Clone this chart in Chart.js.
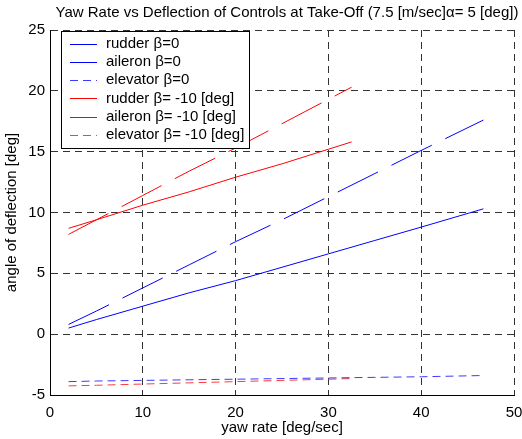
<!DOCTYPE html>
<html>
<head>
<meta charset="utf-8">
<script src="https://cdn.jsdelivr.net/npm/chart.js@4/dist/chart.umd.min.js"></script>
<style>
    html, body { margin: 0; padding: 0; background: #fff; }
    #wrap { width: 522px; height: 439px; }
</style>
</head>
<body>
<div id="wrap"><canvas id="chart" width="522" height="439"></canvas></div>
<script>
// --- Data --------------------------------------------------------------

const xBeta0 = [2, 5, 10, 15, 20, 25, 30, 35, 40, 46.7];
const rudderBeta0 = [0.5, 1.2, 2.3, 3.4, 4.4, 5.5, 6.6, 7.7, 8.8, 10.3];
const aileronBeta0 = [0.8, 1.9, 3.8, 5.7, 7.6, 9.4, 11.3, 13.2, 15.1, 17.6];
const elevatorBeta0 = [-3.9, -3.85, -3.8, -3.75, -3.7, -3.65, -3.6, -3.55, -3.5, -3.4];

const xBetaM10 = [2, 5, 10, 15, 20, 25, 30, 32.5];
const rudderBetaM10 = [8.7, 9.4, 10.6, 11.7, 12.9, 14.0, 15.2, 15.8];
const aileronBetaM10 = [8.2, 9.4, 11.4, 13.4, 15.3, 17.3, 19.3, 20.3];
const elevatorBetaM10 = [-4.25, -4.2, -4.1, -4.0, -3.9, -3.8, -3.7, -3.65];

const xTicks = [0, 10, 20, 30, 40, 50];
const yTicks = [-5, 0, 5, 10, 15, 20, 25];

const titleText = 'Yaw Rate vs Deflection of Controls at Take-Off (7.5 [m/sec]\u03B1= 5 [deg])';

const FONT = '"Liberation Sans", Arial, Helvetica, sans-serif';
const FONT_SIZE = 15;

// --- Helpers -----------------------------------------------------------

function pts(xs, ys) {
    return xs.map((x, i) => ({ x, y: ys[i] }));
}

function series(label, xs, ys, color, dash, legendDash) {
    return {
        label,
        data: pts(xs, ys),
        borderColor: color,
        legendColor: color,
        borderWidth: 1,
        borderDash: dash,
        legendDash,
        showLine: true,
        pointRadius: 0,
        tension: 0,
        fill: false,
    };
}

// Title + boxed legend drawn inside the plot, MATLAB style
const matlabDecor = {
    id: 'matlabDecor',
    afterDraw(chart) {
        const ctx = chart.ctx;
        ctx.save();

        ctx.fillStyle = '#000';
        ctx.font = FONT_SIZE + 'px ' + FONT;
        ctx.textAlign = 'center';
        ctx.textBaseline = 'middle';
        ctx.fillText(titleText, 287, 13);

        // legend box
        const bx = 61.5, by = 31.5, bw = 188, bh = 117;
        ctx.fillStyle = '#fff';
        ctx.fillRect(bx, by, bw, bh);
        ctx.strokeStyle = '#000';
        ctx.lineWidth = 1;
        ctx.setLineDash([]);
        ctx.strokeRect(bx, by, bw, bh);

        ctx.textAlign = 'left';
        chart.data.datasets.forEach((ds, i) => {
            const y = 43.5 + i * 18.3;
            ctx.strokeStyle = ds.legendColor;
            ctx.setLineDash(ds.legendDash);
            ctx.beginPath();
            ctx.moveTo(70, Math.round(y) + 0.5);
            ctx.lineTo(97, Math.round(y) + 0.5);
            ctx.stroke();
            ctx.fillStyle = '#000';
            ctx.fillText(ds.label, 106, y);
        });
        ctx.restore();
    },
};

// --- Chart -------------------------------------------------------------

new Chart(document.getElementById('chart'), {
    type: 'scatter',
    data: {
        datasets: [
            series('rudder \u03B2=0', xBeta0, rudderBeta0, '#0000ff', [], []),
            series('aileron \u03B2=0', xBeta0, aileronBeta0, '#0000ff', [45, 15], []),
            series('elevator \u03B2=0', xBeta0, elevatorBeta0, '#3b3bff', [8, 5], [8, 5]),
            series('rudder \u03B2= -10 [deg]', xBetaM10, rudderBetaM10, '#ff0000', [], []),
            series('aileron \u03B2= -10 [deg]', xBetaM10, aileronBetaM10, '#ff0000', [45, 15], []),
            series('elevator \u03B2= -10 [deg]', xBetaM10, elevatorBetaM10, '#ff3b3b', [8, 5], [8, 5]),
        ],
    },
    options: {
        responsive: false,
        animation: false,
        layout: { padding: { top: 30, right: 8, left: 0, bottom: 0 } },
        plugins: {
            legend: { display: false },
            title: { display: false },
            tooltip: { enabled: false },
        },
        scales: {
            x: {
                type: 'linear',
                min: 0,
                max: 50,
                afterFit: (s) => { s.height = 44; s.paddingLeft = 0; s.paddingRight = 0; },
                afterBuildTicks: (s) => { s.ticks = xTicks.map((v) => ({ value: v })); },
                ticks: { color: '#000', font: { family: FONT, size: FONT_SIZE }, padding: 9, maxRotation: 0 },
                grid: { color: '#333', drawTicks: false, lineWidth: 1 },
                border: { display: true, color: '#000', width: 1, dash: [7, 5] },
                title: {
                    display: true,
                    text: 'yaw rate [deg/sec]',
                    color: '#000',
                    font: { family: FONT, size: FONT_SIZE },
                    padding: { top: 0, bottom: 2 },
                },
            },
            y: {
                type: 'linear',
                min: -5,
                max: 25,
                afterFit: (s) => { s.width = 50; s.paddingTop = 0; s.paddingBottom = 0; },
                afterBuildTicks: (s) => { s.ticks = yTicks.map((v) => ({ value: v })); },
                ticks: { color: '#000', font: { family: FONT, size: FONT_SIZE }, padding: 5 },
                grid: { color: '#333', drawTicks: false, lineWidth: 1 },
                border: { display: true, color: '#000', width: 1, dash: [7, 5] },
                title: {
                    display: true,
                    text: 'angle of deflection [deg]',
                    color: '#000',
                    font: { family: FONT, size: FONT_SIZE },
                    padding: { top: 3, bottom: 2 },
                },
            },
        },
    },
    plugins: [matlabDecor],
});
</script>
</body>
</html>
